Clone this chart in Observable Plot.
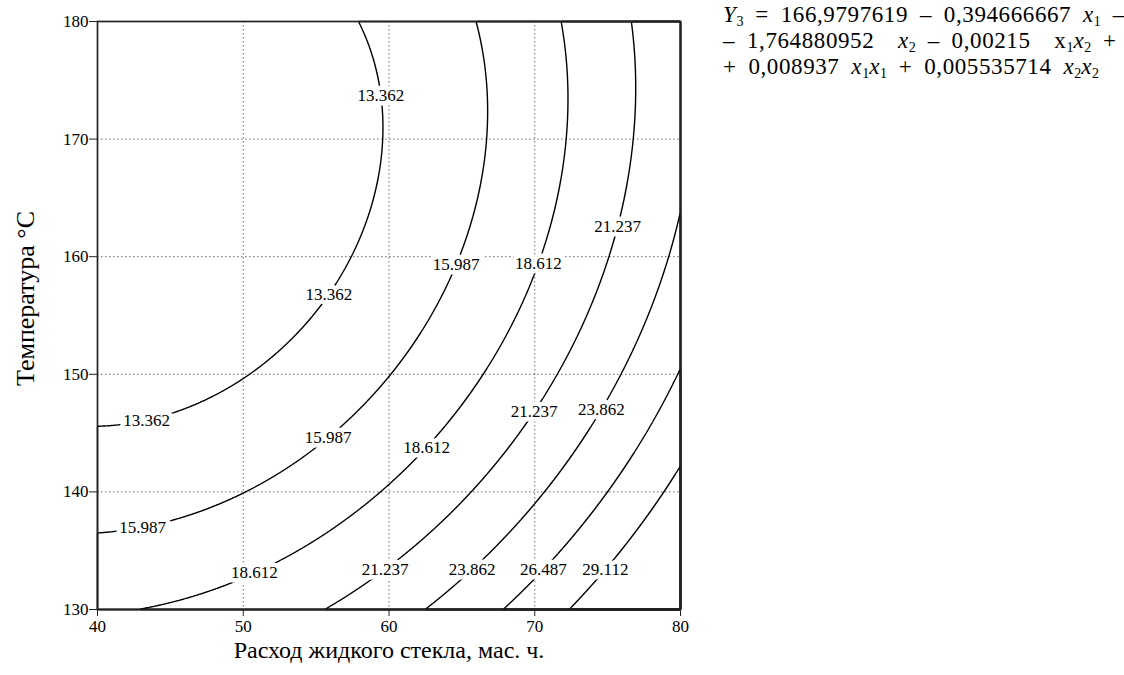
<!DOCTYPE html>
<html><head><meta charset="utf-8">
<script src="https://cdn.jsdelivr.net/npm/d3@7"></script>
<script src="https://cdn.jsdelivr.net/npm/@observablehq/plot@0.6"></script>
<style>
body{margin:0;background:#fff;font-family:"Liberation Serif",serif;}
#wrap{position:relative;width:1124px;height:675px;overflow:hidden;}
#chart{position:absolute;left:0;top:0;}
#eq{position:absolute;left:723px;top:2px;font-size:23px;line-height:26px;color:#000;white-space:nowrap;letter-spacing:0.6px;word-spacing:5.5px;font-family:"Liberation Serif",serif;}
#eq div{height:26px;}
#eq i{font-style:italic;}
#eq sub{font-size:14px;vertical-align:baseline;position:relative;top:4px;line-height:0;letter-spacing:0;}
g[aria-label$="tick label"]{font-size:17px;}
</style></head><body>
<div id="wrap"><div id="chart"></div>
<div id="eq"><div><i>Y</i><sub>3</sub> = 166,9797619 – 0,394666667 <i>x</i><sub>1</sub> –</div><div>– 1,764880952 &nbsp;<i>x</i><sub>2</sub> – 0,00215 &nbsp;x<sub>1</sub><i>x</i><sub>2</sub> +</div><div>+ 0,008937 <i>x</i><sub>1</sub><i>x</i><sub>1</sub> + 0,005535714 <i>x</i><sub>2</sub><i>x</i><sub>2</sub></div></div>
</div>
<script>
// Regression coefficients from the chart's equation: b0, b1, b2, b12, b11, b22
const coef = [166.9797619, -0.394666667, -1.764880952, -0.00215, 0.008937, 0.005535714];
const levels = [13.362, 15.987, 18.612, 21.237, 23.862, 26.487, 29.112];
const xTicks = [40, 50, 60, 70, 80];
const yTicks = [130, 140, 150, 160, 170, 180];
const xGrid = [50, 60, 70];
const yGrid = [140, 150, 160, 170];
// contour label placements: level and temperature (x2) where the label sits
const labelLevels = [13.362, 13.362, 13.362, 15.987, 15.987, 15.987, 18.612, 18.612, 18.612, 21.237, 21.237, 21.237, 23.862, 23.862, 26.487, 29.112];
const labelTemps  = [173.7, 156.8, 146.1, 159.3, 144.6, 137.0, 159.4, 143.8, 133.1, 162.6, 146.8, 133.4, 147.0, 133.4, 133.4, 133.4];
const xLabel = "Расход жидкого стекла, мас. ч.";
const yLabel = "Температура °C";

const f = (x1, x2) => coef[0] + coef[1]*x1 + coef[2]*x2 + coef[3]*x1*x2 + coef[4]*x1*x1 + coef[5]*x2*x2;
// solve f(x1, t) = level for x1 (larger root)
const solveX = (level, t) => {
  const a = coef[4], b = coef[1] + coef[3]*t, c = coef[0] + coef[2]*t + coef[5]*t*t - level;
  const disc = Math.max(0, b*b - 4*a*c);
  return (-b + Math.sqrt(disc)) / (2*a);
};
const labels = labelLevels.map((lv, i) => ({level: lv, y: labelTemps[i], x: solveX(lv, labelTemps[i]), text: lv.toFixed(3)}));

const font = "Liberation Serif";
const chart = Plot.plot({
  width: 700, height: 675,
  marginLeft: 97, marginRight: 20, marginTop: 21, marginBottom: 66,
  style: {fontFamily: font, fontSize: "17px", color: "#000", background: "white"},
  x: {domain: [40, 80]},
  y: {domain: [130, 180]},
  marks: [
    Plot.gridX(xGrid, {stroke: "#666", strokeOpacity: 1, strokeDasharray: "1.5,2.5", strokeWidth: 1}),
    Plot.gridY(yGrid, {stroke: "#666", strokeOpacity: 1, strokeDasharray: "1.5,2.5", strokeWidth: 1}),
    Plot.contour({value: f, x1: 40, x2: 80, y1: 130, y2: 180, thresholds: levels, stroke: "#000", fill: "none", strokeWidth: 1.4, pixelSize: 1}),
    Plot.text(labels, {x: "x", y: "y", text: "text", fontSize: 17, fill: "#000", stroke: "white", strokeWidth: 9, fontFamily: font}),
    Plot.frame({stroke: "#222", strokeWidth: 1.7}),
    Plot.axisX(xTicks, {tickSize: 7, tickPadding: 3, fontSize: 17, label: null, stroke: "#222", fill: "#000"}),
    Plot.axisY(yTicks, {tickSize: 8, tickPadding: 1, fontSize: 17, label: null, stroke: "#222", fill: "#000"}),
    Plot.text([xLabel], {frameAnchor: "bottom", dy: 48, text: d => d, fontSize: 24, fill: "#000"}),
    Plot.text([yLabel], {frameAnchor: "left", dx: -72, dy: -17, rotate: -90, textAnchor: "middle", text: d => d, fontSize: 26, fill: "#000"})
  ]
});
document.getElementById("chart").appendChild(chart);
</script>
</body></html>
